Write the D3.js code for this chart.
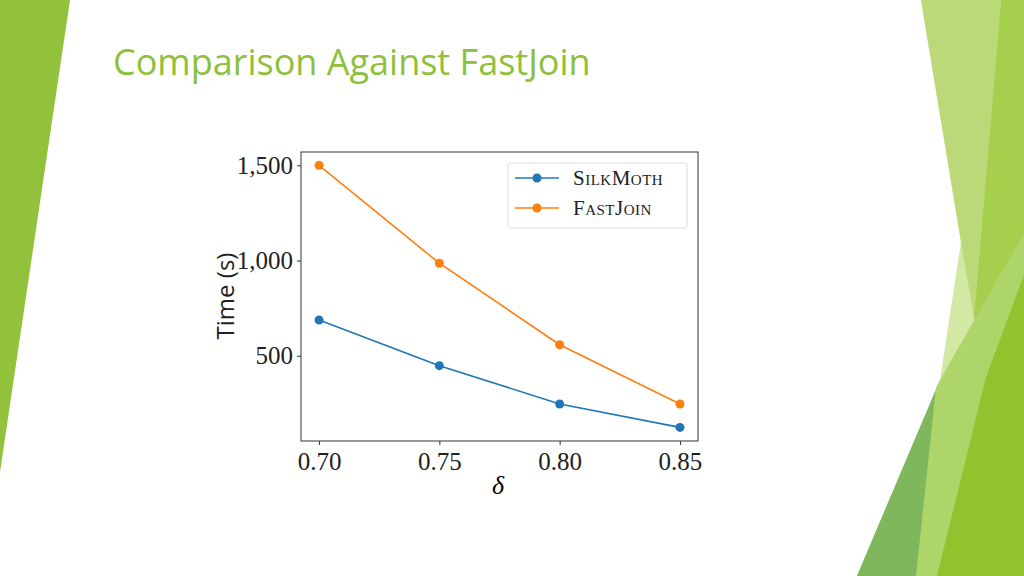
<!DOCTYPE html>
<html><head><meta charset="utf-8">
<script src="https://cdn.jsdelivr.net/npm/d3@7"></script>
<style>body{margin:0;background:#fff}</style>
</head><body>
<script>
var deltas = [0.70, 0.75, 0.80, 0.85]
var silkmoth = [688, 448, 247, 124]
var fastjoin = [1500, 986, 558, 247]
var xTicks = [0.70, 0.75, 0.80, 0.85]
var yTicks = [500, 1000, 1500]
var seriesNames = ["SilkMoth", "FastJoin"]

var svg = d3.select("body").append("svg").attr("width",1024).attr("height",576)

// slide decoration
var deco = [
  {c:"#92c13b", p:[[0,0],[70,0],[0,472]]},
  {c:"#d3e8a3", p:[[921,0],[1024,0],[1024,576],[918,576],[940,380],[961,242]]},
  {c:"#bcd97a", p:[[921,0],[1001,0],[974,317],[961,242]]},
  {c:"#a6cf4e", p:[[1001,0],[1024,0],[1024,576],[960,576],[986,377],[974,317]]},
  {c:"#aed56a", p:[[1024,233],[1024,576],[857,576],[940,380]]},
  {c:"#7fb85c", p:[[940,380],[857,576],[916,576],[936,388]]},
  {c:"#93c22f", p:[[1024,275],[1024,576],[937,576],[986,377]]}
]
deco.forEach(d=>{
  svg.append("polygon").attr("points",d.p.map(q=>q.join(",")).join(" ")).attr("fill",d.c)
})

svg.append("text").attr("x",113).attr("y",75).text("Comparison Against FastJoin")
  .attr("font-family","Open Sans").attr("font-size",36).attr("fill","#8dc03b")

var L=301, R=698, T=152, B=441
var x = d3.scaleLinear().domain([0.6925,0.8575]).range([L,R])
var y = d3.scaleLinear().domain([52.5,1570]).range([B,T])

var font = "Liberation Serif"
var gx = svg.append("g").attr("transform",`translate(0,${B})`)
  .call(d3.axisBottom(x).tickValues(xTicks).tickFormat(d3.format(".2f")).tickSize(4).tickPadding(4))
var gy = svg.append("g").attr("transform",`translate(${L},0)`)
  .call(d3.axisLeft(y).tickValues(yTicks).tickSize(4).tickPadding(4))
;[gx,gy].forEach(g=>{
  g.select(".domain").remove()
  g.selectAll("text").attr("font-family",font).attr("font-size",25).attr("fill","#222")
  g.selectAll("line").attr("stroke","#333")
})
gx.selectAll("text").attr("dy","0.85em")

svg.append("rect").attr("x",L).attr("y",T).attr("width",R-L).attr("height",B-T)
  .attr("fill","none").attr("stroke","#333").attr("stroke-width",1)

svg.append("text").attr("x",498).attr("y",494).attr("text-anchor","middle")
  .attr("font-family",font).attr("font-style","italic").attr("font-size",26).text("δ")
svg.append("text").attr("transform","translate(234,296) rotate(-90)").attr("text-anchor","middle")
  .attr("font-family","Open Sans").attr("font-size",24).attr("fill","#222").text("Time (s)")

var colors = ["#1f77b4","#ff7f0e"]
var line = d3.line().x((d,i)=>x(deltas[i])).y(d=>y(d))
;[silkmoth, fastjoin].forEach((s,k)=>{
  svg.append("path").attr("d",line(s)).attr("fill","none").attr("stroke",colors[k]).attr("stroke-width",1.6)
  svg.selectAll(null).data(s).enter().append("circle")
    .attr("cx",(d,i)=>x(deltas[i])).attr("cy",d=>y(d)).attr("r",4.5).attr("fill",colors[k])
})

var lg = svg.append("g")
lg.append("rect").attr("x",508).attr("y",163).attr("width",179).attr("height",65).attr("rx",3)
  .attr("fill","#fff").attr("stroke","#ddd")
seriesNames.forEach((n,k)=>{
  var yy = 178 + k*30
  lg.append("line").attr("x1",515).attr("x2",559).attr("y1",yy).attr("y2",yy).attr("stroke",colors[k]).attr("stroke-width",1.6)
  lg.append("circle").attr("cx",537).attr("cy",yy).attr("r",4.5).attr("fill",colors[k])
  lg.append("text").attr("x",573).attr("y",yy+7).text(n).attr("font-family",font)
    .attr("font-variant","small-caps").attr("font-size",21).attr("letter-spacing",0.5).attr("fill","#222")
})
</script>
</body></html>
